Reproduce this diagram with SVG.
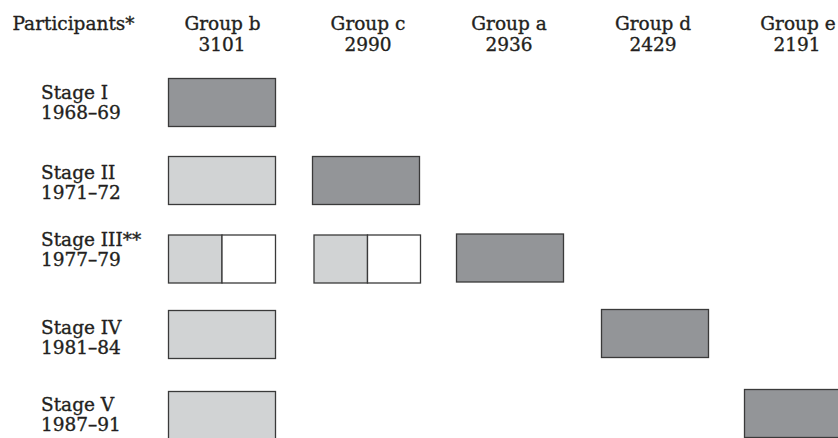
<svg xmlns="http://www.w3.org/2000/svg" width="838" height="438" viewBox="0 0 838 438">
<style>
text{font-family:"DejaVu Serif","Liberation Serif",serif;font-size:18.5px;fill:#231f20;stroke:#231f20;stroke-width:0.35}
.h{text-anchor:middle}
.box{stroke:#3a3a3a;stroke-width:1.3}
.dark{fill:#939598}
.light{fill:#d1d3d4}
.white{fill:#ffffff}
</style>
<rect width="838" height="438" fill="#ffffff"/>
<g id="header">
<text x="12.5" y="29.5">Participants*</text>
<text class="h" x="222.5" y="30">Group b</text><text class="h" x="222" y="51">3101</text>
<text class="h" x="368" y="30">Group c</text><text class="h" x="368" y="51">2990</text>
<text class="h" x="509" y="30">Group a</text><text class="h" x="509" y="51">2936</text>
<text class="h" x="653" y="30">Group d</text><text class="h" x="653" y="51">2429</text>
<text class="h" x="798" y="30">Group e</text><text class="h" x="797" y="51">2191</text>
</g>
<g id="stage1">
<text x="41" y="98.5">Stage I</text><text x="41" y="118.5">1968–69</text>
<rect class="box dark" x="168.5" y="78.5" width="107" height="48"/>
</g>
<g id="stage2">
<text x="41" y="178.5">Stage II</text><text x="41" y="198.5">1971–72</text>
<rect class="box light" x="168.5" y="156.5" width="107" height="48"/>
<rect class="box dark" x="312.5" y="156.5" width="107" height="48"/>
</g>
<g id="stage3">
<text x="41" y="246">Stage III**</text><text x="41" y="266">1977–79</text>
<rect class="box light" x="168.5" y="235" width="53.5" height="48"/>
<rect class="box white" x="222" y="235" width="53.5" height="48"/>
<rect class="box light" x="314" y="235" width="53.5" height="48"/>
<rect class="box white" x="367.5" y="235" width="53" height="48"/>
<rect class="box dark" x="456.5" y="234" width="107" height="48"/>
</g>
<g id="stage4">
<text x="41" y="334">Stage IV</text><text x="41" y="354">1981–84</text>
<rect class="box light" x="168.5" y="310.5" width="107" height="48"/>
<rect class="box dark" x="601.5" y="309.5" width="107" height="48"/>
</g>
<g id="stage5">
<text x="41" y="411">Stage V</text><text x="41" y="431">1987–91</text>
<rect class="box light" x="168.5" y="391.5" width="107" height="50"/>
<rect class="box dark" x="744.5" y="389.5" width="107" height="48"/>
</g>
<g id="connectors"></g>
</svg>
